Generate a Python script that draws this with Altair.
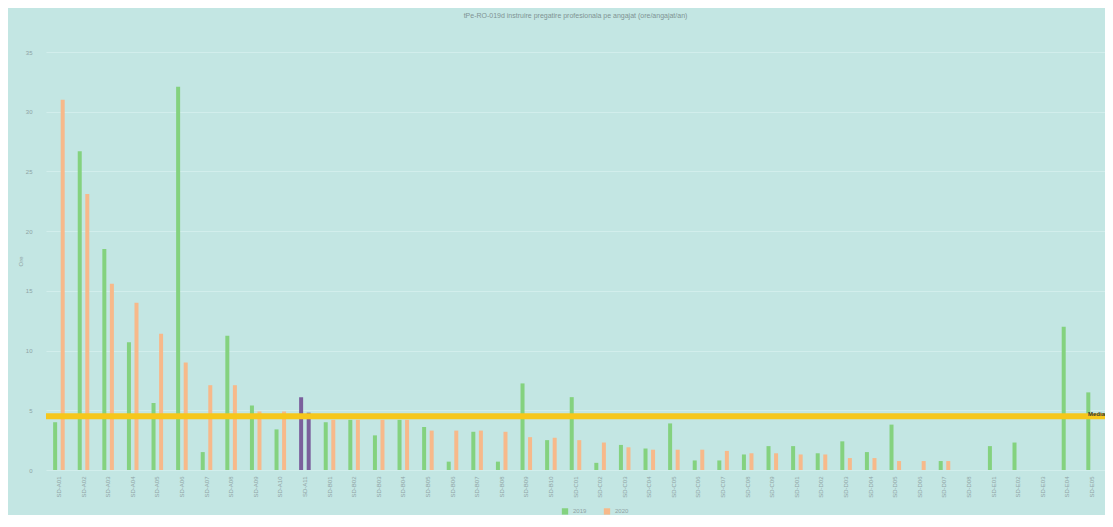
import altair as alt
import pandas as pd

title_text = "tPe-RO-019d instruire pregatire profesionala pe angajat (ore/angajat/an)"

categories = [
    "SD-A01", "SD-A02", "SD-A03", "SD-A04", "SD-A05", "SD-A06", "SD-A07", "SD-A08",
    "SD-A09", "SD-A10", "SD-A11", "SD-B01", "SD-B02", "SD-B03", "SD-B04", "SD-B05",
    "SD-B06", "SD-B07", "SD-B08", "SD-B09", "SD-B10", "SD-C01", "SD-C02", "SD-C03",
    "SD-C04", "SD-C05", "SD-C06", "SD-C07", "SD-C08", "SD-C09", "SD-D01", "SD-D02",
    "SD-D03", "SD-D04", "SD-D05", "SD-D06", "SD-D07", "SD-D08", "SD-E01", "SD-E02",
    "SD-E03", "SD-E04", "SD-E05",
]

v2019 = [4.0, 26.7, 18.5, 10.7, 5.6, 32.1, 1.5, 11.25, 5.4, 3.4, 6.1, 4.0, 4.2, 2.9,
         4.2, 3.6, 0.7, 3.2, 0.7, 7.25, 2.5, 6.1, 0.6, 2.1, 1.8, 3.9, 0.8, 0.8, 1.3,
         2.0, 2.0, 1.4, 2.4, 1.5, 3.8, 0, 0.75, 0, 2.0, 2.3, 0, 12.0, 6.5]
v2020 = [31.0, 23.1, 15.6, 14.0, 11.4, 9.0, 7.1, 7.1, 4.9, 4.9, 4.8, 4.2, 4.2, 4.2,
         4.2, 3.3, 3.3, 3.3, 3.2, 2.75, 2.7, 2.5, 2.3, 1.9, 1.7, 1.7, 1.7, 1.6, 1.4,
         1.4, 1.3, 1.3, 1.0, 1.0, 0.75, 0.75, 0.75, 0, 0, 0, 0, 0, 0]
highlighted = ["SD-A11"]
series = ["2019", "2020"]
media = [4.5]
media_label = ["Media"]

rows = []
for i, c in enumerate(categories):
    for s, vals in zip(series, [v2019, v2020]):
        rows.append({"cat": c, "series": s, "value": vals[i], "hl": c in highlighted})
df = pd.DataFrame(rows)
df_media = pd.DataFrame({"media": media, "label": media_label})

grey = "#8fa3a3"

bars = alt.Chart(df).mark_bar().encode(
    x=alt.X("cat:N", sort=categories, title=None,
            scale=alt.Scale(paddingInner=0.53, paddingOuter=0.29),
            axis=alt.Axis(labelAngle=270, labelFontSize=6, labelColor=grey,
                          ticks=False, domain=False, labelPadding=6)),
    xOffset=alt.XOffset("series:N", sort=series,
                        scale=alt.Scale(paddingInner=0.47, paddingOuter=0)),
    y=alt.Y("value:Q", title="Ore",
            scale=alt.Scale(domain=[0, 35], nice=False),
            axis=alt.Axis(values=[0, 2.5, 5, 7.5, 10, 12.5, 15, 17.5, 20, 22.5, 25,
                                  27.5, 30, 32.5, 35],
                          labelFontSize=6, labelColor=grey, ticks=False, domain=False,
                          titleFontSize=6, titleColor=grey, titleFontWeight="normal",
                          labelPadding=14, titlePadding=2,
                          gridColor="#d2eeec", gridWidth=1)),
    color=alt.condition(
        alt.datum.hl,
        alt.value("#7a5f9c"),
        alt.Color("series:N", sort=series, title=None,
                  scale=alt.Scale(domain=series, range=["#84d27f", "#f7b98a"]),
                  legend=alt.Legend(orient="none", legendX=515, legendY=455,
                                    direction="horizontal",
                                    symbolType="square", symbolSize=40,
                                    labelFontSize=6, labelColor=grey,
                                    columnPadding=16)),
    ),
)

rule = alt.Chart(df_media).mark_rule(color="#f6c71c", strokeWidth=6).encode(
    y="media:Q"
)

label = alt.Chart(df_media).mark_text(
    align="right", baseline="bottom", fontSize=6, fontWeight="bold",
    color="#333333", dy=1
).encode(
    y="media:Q",
    x=alt.value(1059),
    text="label:N",
)

chart = alt.layer(bars, rule, label).properties(
    width=1059, height=418,
    title=alt.TitleParams(title_text, fontSize=7, color="#7f9393",
                          fontWeight="normal", anchor="middle", offset=30),
    autosize=alt.AutoSizeParams(type="none"),
    padding={"left": 38, "top": 44, "right": 0, "bottom": 45},
).configure(
    background="#c3e6e3",
).configure_view(
    stroke=None,
)

chart.save("out.html", embed_options={"renderer": "svg", "actions": False})
